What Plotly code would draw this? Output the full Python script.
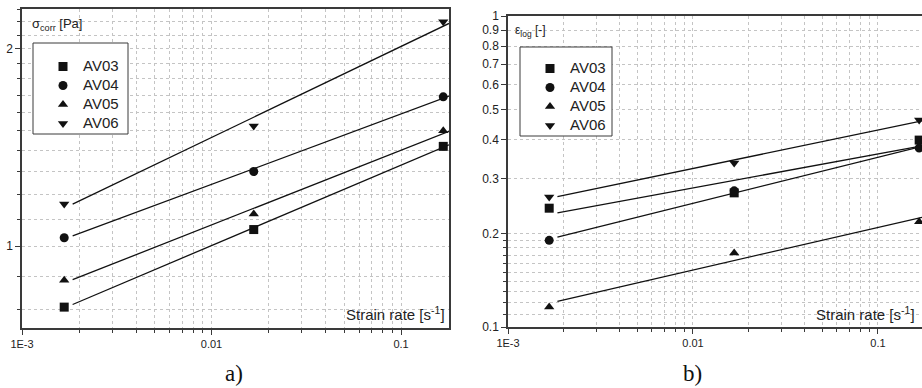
import numpy as np
import plotly.graph_objects as go

# ---------------- data ----------------
strain_rate = [0.00167, 0.0167, 0.167]
series = ["AV03", "AV04", "AV05", "AV06"]
symbols = ["square", "circle", "triangle-up", "triangle-down"]

sigma_AV03 = [0.807, 1.06, 1.42]
sigma_AV04 = [1.03, 1.30, 1.69]
sigma_AV05 = [0.887, 1.12, 1.50]
sigma_AV06 = [1.16, 1.526, 2.20]

eps_AV03 = [0.241, 0.270, 0.399]
eps_AV04 = [0.190, 0.274, 0.376]
eps_AV05 = [0.116, 0.173, 0.218]
eps_AV06 = [0.262, 0.337, 0.463]

x_tick_vals = [0.001, 0.01, 0.1]
x_tick_text = ["1E-3", "0.01", "0.1"]
sigma_tick_vals = [1, 2]
sigma_tick_text = ["1", "2"]
eps_tick_vals = [0.1, 0.2, 0.3, 0.4, 0.5, 0.6, 0.7, 0.8, 0.9, 1]
eps_tick_text = ["0.1", "0.2", "0.3", "0.4", "0.5", "0.6", "0.7", "0.8", "0.9", "1"]

FIT_START = 0.00185
LEFT_XMAX_LOG = -0.747
RIGHT_XMAX_LOG = -0.762

sigma_data = [sigma_AV03, sigma_AV04, sigma_AV05, sigma_AV06]
eps_data = [eps_AV03, eps_AV04, eps_AV05, eps_AV06]

x_minor = [m * 10.0 ** e for e in (-3, -2, -1) for m in range(2, 10)]
sigma_minor = [round(0.1 * k, 1) for k in range(7, 24)]
eps_minor = [round(0.01 * k, 2) for k in range(10, 20)] + [0.15]

FONT = "Liberation Sans, Arial, sans-serif"
DARK = "#3a3a3a"
GRID = "#c4c4c4"
W, H = 922, 388

fig = go.Figure()


def fit_line(xs, ys, xmax_log):
    p = np.polyfit(np.log10(xs), np.log10(ys), 1)
    lx = np.array([np.log10(FIT_START), xmax_log])
    return list(10 ** lx), list(10 ** np.polyval(p, lx))


def legend_name(name):
    return '<span style="font-size:15px">%s</span>' % name


for name, sym, ys in zip(series, symbols, sigma_data):
    fx, fy = fit_line(strain_rate, ys, LEFT_XMAX_LOG)
    fig.add_trace(go.Scatter(x=fx, y=fy, mode="lines", line=dict(color="#111", width=1.3),
                             showlegend=False, xaxis="x", yaxis="y", hoverinfo="skip"))
    fig.add_trace(go.Scatter(x=strain_rate, y=ys, mode="markers", name=legend_name(name),
                             marker=dict(symbol=sym, size=9, color="#111"),
                             xaxis="x", yaxis="y", legend="legend", cliponaxis=False))

for name, sym, ys in zip(series, symbols, eps_data):
    fx, fy = fit_line(strain_rate, ys, RIGHT_XMAX_LOG)
    fig.add_trace(go.Scatter(x=fx, y=fy, mode="lines", line=dict(color="#111", width=1.3),
                             showlegend=False, xaxis="x2", yaxis="y2", hoverinfo="skip"))
    fig.add_trace(go.Scatter(x=strain_rate, y=ys, mode="markers", name=legend_name(name),
                             marker=dict(symbol=sym, size=9, color="#111"),
                             xaxis="x2", yaxis="y2", legend="legend2", cliponaxis=False))


def xaxis(domain, xmax_log, anchor):
    return dict(type="log", domain=domain, range=[-3, xmax_log], anchor=anchor,
                automargin=False,
                tickvals=x_tick_vals, ticktext=x_tick_text, ticks="outside", ticklen=5,
                tickcolor=DARK, tickwidth=1, showline=True, linecolor=DARK, linewidth=1.5,
                mirror=True, showgrid=True, gridcolor=GRID, griddash="dot", gridwidth=1,
                tickfont=dict(family=FONT, size=11, color="#222"), zeroline=False,
                minor=dict(tickvals=x_minor, ticks="outside", ticklen=3, tickcolor=DARK,
                           showgrid=True, gridcolor=GRID, griddash="dot", gridwidth=1))


def yaxis(domain, rng, tv, tt, minor_vals, anchor):
    return dict(type="log", domain=domain, range=rng, anchor=anchor,
                automargin=False,
                tickvals=tv, ticktext=tt, ticks="outside", ticklen=5,
                tickcolor=DARK, tickwidth=1, showline=True, linecolor=DARK, linewidth=1.5,
                mirror=True, showgrid=True, gridcolor=GRID, griddash="dot", gridwidth=1,
                tickfont=dict(family=FONT, size=12, color="#222"), zeroline=False,
                minor=dict(tickvals=minor_vals, ticks="outside", ticklen=3, tickcolor=DARK,
                           showgrid=True, gridcolor=GRID, griddash="dot", gridwidth=1))


legend_common = dict(borderwidth=0, bgcolor="rgba(0,0,0,0)",
                     font=dict(family=FONT, size=11, color="#222"),
                     xanchor="left", yanchor="top", tracegroupgap=0, itemwidth=30)

fig.update_layout(
    width=W, height=H, margin=dict(l=0, r=0, t=0, b=0, autoexpand=False),
    paper_bgcolor="white", plot_bgcolor="white",
    xaxis=xaxis([22 / W, 449 / W], LEFT_XMAX_LOG, "y"),
    yaxis=yaxis([1 - 328 / H, 1 - 9 / H], [-0.125, 0.362], sigma_tick_vals,
                sigma_tick_text, sigma_minor, "x"),
    xaxis2=xaxis([508 / W, 1.0], RIGHT_XMAX_LOG, "y2"),
    yaxis2=yaxis([1 - 327 / H, 1 - 16 / H], [-1, 0], eps_tick_vals, eps_tick_text,
                 eps_minor, "x2"),
    legend=dict(x=43 / W, y=1 - 52 / H, **legend_common),
    legend2=dict(x=530 / W, y=1 - 54 / H, **legend_common),
    showlegend=True,
)

# legend frames
for (x0, y0, x1, y1) in ((33, 43, 128, 134), (520, 47, 612, 136)):
    fig.add_shape(type="rect", xref="paper", yref="paper",
                  x0=x0 / W, x1=x1 / W, y0=1 - y1 / H, y1=1 - y0 / H,
                  line=dict(color=DARK, width=1), fillcolor="white", layer="above")

annots = [
    dict(x=30, y=25, text="σ<sub>corr</sub> [Pa]", size=13),
    dict(x=513, y=31, text="ε<sub>log</sub> [-]", size=12),
]
for a in annots:
    fig.add_annotation(x=a["x"] / W, y=1 - a["y"] / H, xref="paper", yref="paper",
                       text=a["text"], showarrow=False, xanchor="left", yanchor="middle",
                       font=dict(family=FONT, size=a["size"], color="#222"))

for xr in (447, 917):
    fig.add_annotation(x=xr / W, y=1 - 313 / H, xref="paper", yref="paper",
                       text="Strain rate [s<sup>-1</sup>]", showarrow=False,
                       xanchor="right", yanchor="middle",
                       font=dict(family=FONT, size=15, color="#222"))

for xc, lab in ((234, "a)"), (692, "b)")):
    fig.add_annotation(x=xc / W, y=1 - 373 / H, xref="paper", yref="paper",
                       text=lab, showarrow=False, xanchor="center", yanchor="middle",
                       font=dict(family="Liberation Serif, Times New Roman, serif", size=23,
                                 color="#111"))

fig.write_html("out.html", config={"displayModeBar": False},
               post_script="document.body.style.margin='0';")
